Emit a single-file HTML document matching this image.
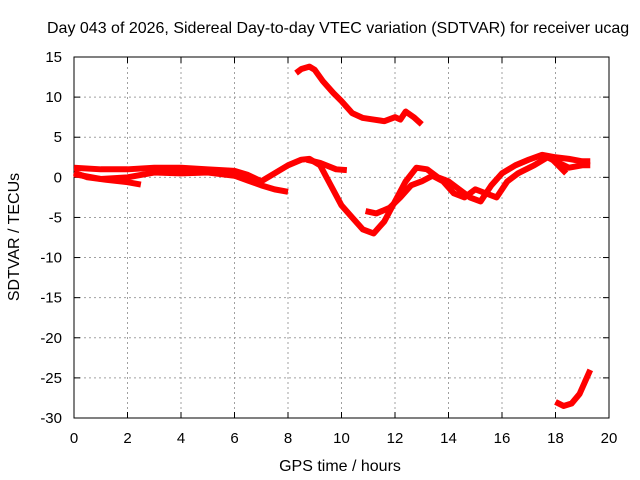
<!DOCTYPE html>
<html><head><meta charset="utf-8"><style>
body{margin:0;background:#fff}
svg{display:block;font-family:"Liberation Sans",sans-serif}
</style></head><body>
<svg id="chart" width="640" height="480">
<text x="47" y="33" font-size="16" fill="#000">Day 043 of 2026, Sidereal Day-to-day VTEC variation (SDTVAR) for receiver ucag</text>
<g id="grid"></g>
<g id="axes"></g>
<g id="series"></g>
<text x="340" y="471" font-size="16" text-anchor="middle">GPS time / hours</text>
<text transform="translate(19,237) rotate(-90)" font-size="16" text-anchor="middle">SDTVAR / TECUs</text>
</svg>
<script>
const xTicks=[0,2,4,6,8,10,12,14,16,18,20];
const yTicks=[15,10,5,0,-5,-10,-15,-20,-25,-30];
const segA_h=[8.3,8.5,8.8,9.0,9.3,9.7,10.0,10.4,10.8,11.2,11.6,12.0,12.2,12.4,12.7,13.0];
const segA_v=[13,13.5,13.8,13.4,12,10.5,9.5,8,7.4,7.2,7,7.5,7.2,8.2,7.5,6.6];
const segB_h=[0,1,2,3,4,5,6,6.5,7,7.5,8,8.5,8.8,9.2,9.6,10,10.4,10.8,11.2,11.6,12,12.4,12.8,13.2,13.6,14,14.4,14.8,15.2,15.6,16,16.5,17,17.5,18,18.5,19,19.3];
const segB_v=[1.2,1,1,1.2,1.2,1,0.8,0.3,-0.5,0.5,1.5,2.2,2.3,1.5,-1,-3.5,-5,-6.5,-7,-5.5,-3,-0.5,1.2,1,0,-0.5,-1.5,-2.5,-3,-1,0.5,1.5,2.2,2.8,2.5,2.3,2,2];
const segC_h=[0,1,2,3,4,5,6,6.5,7,7.5,8];
const segC_v=[0.4,-0.2,0,0.6,0.5,0.6,0.2,-0.4,-1,-1.5,-1.8];
const segD_h=[0,0.5,1.2,2,2.5];
const segD_v=[0.6,0,-0.3,-0.6,-0.9];
const segE_h=[8.7,9.2,9.8,10.2];
const segE_v=[2.2,1.8,1,0.9];
const segF_h=[10.9,11.3,11.8,12.2,12.6,13.0,13.4,13.8,14.2,14.6,15.0,15.4,15.8,16.2,16.6,17.2,17.7,18,18.5,19,19.3];
const segF_v=[-4.2,-4.5,-3.8,-2.5,-1,-0.5,0.2,-0.5,-2,-2.5,-1.5,-2,-2.5,-0.5,0.5,1.5,2.5,2,1.2,1.5,1.5];
const segG_h=[17.8,18.1,18.4];
const segG_v=[2.5,1.5,0.5];
const segH_h=[18,18.3,18.6,18.9,19.1,19.3];
const segH_v=[-28,-28.5,-28.2,-27,-25.5,-24];
const NS='http://www.w3.org/2000/svg';
const X0=74,X1=609,Y0=57,Y1=418;
function sx(h){return X0+(h-0)/(20-0)*(X1-X0);}
function sy(v){return Y0+(15-v)/(15-(-30))*(Y1-Y0);}
function mk(tag,attrs,parent){const e=document.createElementNS(NS,tag);for(const k in attrs)e.setAttribute(k,attrs[k]);parent.appendChild(e);return e;}
const grid=document.getElementById('grid'),axes=document.getElementById('axes'),ser=document.getElementById('series');
xTicks.forEach(t=>{
  const x=sx(t);
  if(t>0&&t<20){const g=mk('line',{x1:x,x2:x,y1:Y0,y2:Y1,stroke:'#a0a0a0','stroke-dasharray':'2,3'},grid);
  
  }
  mk('line',{x1:x,x2:x,y1:Y1,y2:Y1-6,stroke:'#000'},axes);
  mk('line',{x1:x,x2:x,y1:Y0,y2:Y0+6,stroke:'#000'},axes);
  const l=mk('text',{x:x,y:443,'font-size':15,'text-anchor':'middle'},axes);l.textContent=t;
  
  
});
yTicks.forEach(t=>{
  const y=sy(t);
  if(t<15&&t>-30){const g=mk('line',{x1:X0,x2:X1,y1:y,y2:y,stroke:'#a0a0a0','stroke-dasharray':'2,3'},grid);
  
  }
  mk('line',{x1:X0,x2:X0+6,y1:y,y2:y,stroke:'#000'},axes);
  mk('line',{x1:X1,x2:X1-6,y1:y,y2:y,stroke:'#000'},axes);
  const l=mk('text',{x:62,y:y+5,'font-size':15,'text-anchor':'end'},axes);l.textContent=t;
  
  
});
mk('rect',{x:X0,y:Y0,width:X1-X0,height:Y1-Y0,fill:'none',stroke:'#000'},axes);
[[segA_h,segA_v],[segB_h,segB_v],[segC_h,segC_v],[segD_h,segD_v],[segE_h,segE_v],[segF_h,segF_v],[segG_h,segG_v],[segH_h,segH_v]].forEach(([hs,vs])=>{
  const p=mk('polyline',{points:hs.map((h,i)=>sx(h)+','+sy(vs[i])).join(' '),fill:'none',stroke:'#ff0000','stroke-width':6,'stroke-linejoin':'round'},ser);
  
  
});
</script>
</body></html>
